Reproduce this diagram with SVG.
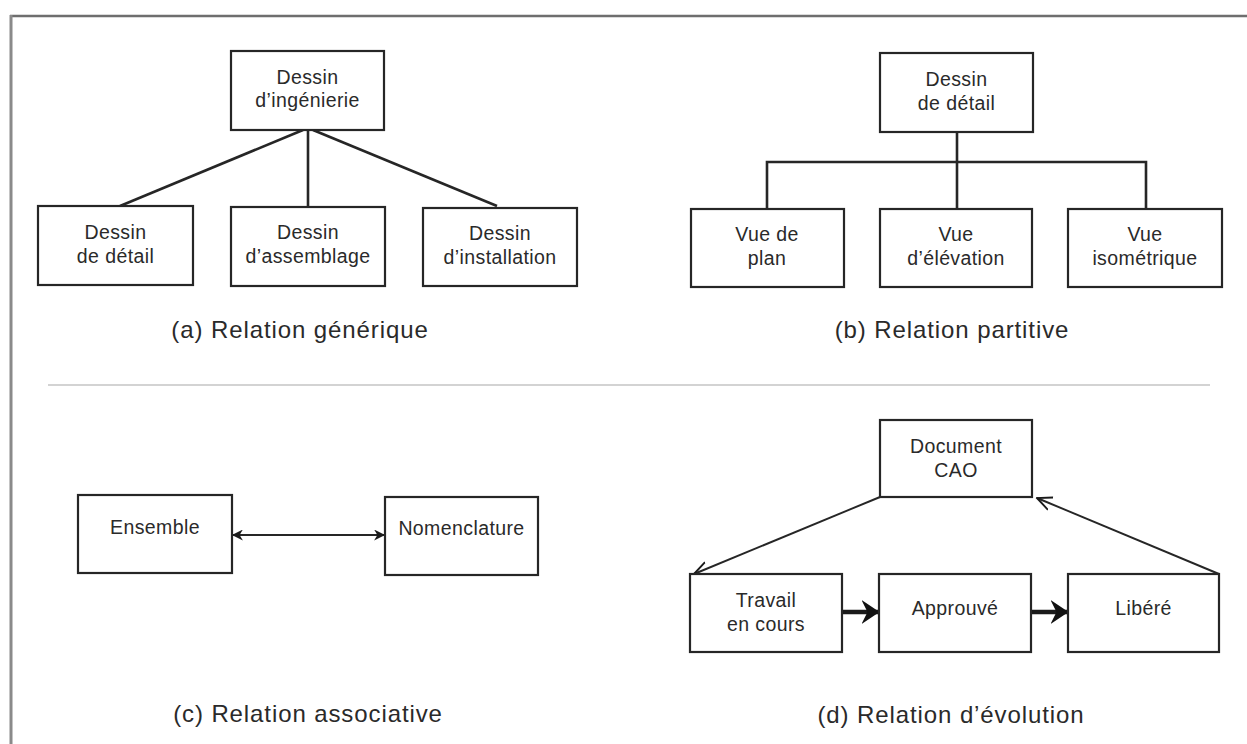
<svg xmlns="http://www.w3.org/2000/svg" width="1247" height="744" viewBox="0 0 1247 744">
  <style>
    .box { fill: #fff; stroke: #262626; stroke-width: 2.2; }
    .t { font-family: "Liberation Sans", Arial, sans-serif; font-size: 19.5px; letter-spacing: 0.4px; fill: #2a2a2a; text-anchor: middle; }
    .cap { font-family: "Liberation Sans", Arial, sans-serif; font-size: 24px; letter-spacing: 0.9px; fill: #2a2a2a; text-anchor: middle; }
    .ln { fill: none; stroke: #262626; stroke-width: 2.6; }
    .thin { fill: none; stroke: #262626; stroke-width: 1.9; }
    .thick { fill: none; stroke: #1a1a1a; stroke-width: 4.5; }
  </style>
  <defs>
    <marker id="dbl" viewBox="0 0 10 10" refX="9" refY="5" markerWidth="12" markerHeight="11" orient="auto-start-reverse" markerUnits="userSpaceOnUse">
      <path d="M0,0 L10,5 L0,10 L3,5 Z" fill="#1a1a1a"/>
    </marker>
    <marker id="openv" viewBox="0 0 12 12" refX="11" refY="6" markerWidth="16" markerHeight="16" orient="auto" markerUnits="userSpaceOnUse">
      <path d="M0,1 L11,6 L0,11" fill="none" stroke="#1a1a1a" stroke-width="1.4"/>
    </marker>
    <marker id="bold" viewBox="0 0 12 12" refX="11" refY="6" markerWidth="18" markerHeight="24" orient="auto" markerUnits="userSpaceOnUse" preserveAspectRatio="none">
      <path d="M0,0 L12,6 L0,12 L4,6 Z" fill="#111"/>
    </marker>
  </defs>

  <rect width="1247" height="744" fill="#fff"/>

  <!-- frame and divider -->
  <line x1="10" y1="16" x2="1247" y2="16" stroke="#6e6e6e" stroke-width="2.5"/>
  <line x1="11" y1="15" x2="11" y2="744" stroke="#8a8a8a" stroke-width="3"/>
  <line x1="48" y1="385" x2="1210" y2="385" stroke="#c4c4c4" stroke-width="1.6"/>

  <g id="connectors">
    <!-- (a) generic -->
    <line class="ln" x1="303" y1="130" x2="120" y2="206"/>
    <line class="ln" x1="308" y1="130" x2="308" y2="206"/>
    <line class="ln" x1="313" y1="130" x2="497" y2="206"/>
    <!-- (b) partitive -->
    <polyline class="ln" points="957,132 957,209"/>
    <polyline class="ln" points="767,209 767,162 1146,162 1146,209"/>
    <!-- (c) associative -->
    <line class="thin" x1="233" y1="535" x2="384" y2="535" marker-start="url(#dbl)" marker-end="url(#dbl)"/>
    <!-- (d) evolution -->
    <line class="thin" x1="880" y1="497" x2="694" y2="574" marker-end="url(#openv)"/>
    <line class="thin" x1="1219" y1="574" x2="1037" y2="498" marker-end="url(#openv)"/>
    <line class="thick" x1="842" y1="612" x2="878" y2="612" marker-end="url(#bold)"/>
    <line class="thick" x1="1031" y1="612" x2="1067" y2="612" marker-end="url(#bold)"/>
  </g>

  <!-- (a) Relation générique -->
  <g id="a-ingenierie">
    <rect class="box" x="231" y="51" width="153" height="79"/>
    <text class="t" x="307.5" y="84">Dessin</text>
    <text class="t" x="307.5" y="107">d’ingénierie</text>
  </g>
  <g id="a-detail">
    <rect class="box" x="38" y="206" width="155" height="79"/>
    <text class="t" x="115.5" y="239">Dessin</text>
    <text class="t" x="115.5" y="263">de détail</text>
  </g>
  <g id="a-assemblage">
    <rect class="box" x="231" y="207" width="154" height="79"/>
    <text class="t" x="308" y="239">Dessin</text>
    <text class="t" x="308" y="263">d’assemblage</text>
  </g>
  <g id="a-installation">
    <rect class="box" x="423" y="208" width="154" height="78"/>
    <text class="t" x="500" y="240">Dessin</text>
    <text class="t" x="500" y="264">d’installation</text>
  </g>
  <text class="cap" x="300" y="338">(a) Relation générique</text>

  <!-- (b) Relation partitive -->
  <g id="b-detail">
    <rect class="box" x="880" y="53" width="153" height="79"/>
    <text class="t" x="956.5" y="86">Dessin</text>
    <text class="t" x="956.5" y="110">de détail</text>
  </g>
  <g id="b-plan">
    <rect class="box" x="691" y="209" width="153" height="78"/>
    <text class="t" x="767" y="241">Vue de</text>
    <text class="t" x="767" y="265">plan</text>
  </g>
  <g id="b-elevation">
    <rect class="box" x="880" y="209" width="152" height="78"/>
    <text class="t" x="956" y="241">Vue</text>
    <text class="t" x="956" y="265">d’élévation</text>
  </g>
  <g id="b-isometrique">
    <rect class="box" x="1068" y="209" width="154" height="78"/>
    <text class="t" x="1145" y="241">Vue</text>
    <text class="t" x="1145" y="265">isométrique</text>
  </g>
  <text class="cap" x="952" y="338">(b) Relation partitive</text>

  <!-- (c) Relation associative -->
  <g id="c-ensemble">
    <rect class="box" x="78" y="495" width="154" height="78"/>
    <text class="t" x="155" y="534">Ensemble</text>
  </g>
  <g id="c-nomenclature">
    <rect class="box" x="385" y="497" width="153" height="78"/>
    <text class="t" x="461.5" y="535">Nomenclature</text>
  </g>
  <text class="cap" x="308" y="722">(c) Relation associative</text>

  <!-- (d) Relation d'évolution -->
  <g id="d-cao">
    <rect class="box" x="880" y="420" width="152" height="77"/>
    <text class="t" x="956" y="453">Document</text>
    <text class="t" x="956" y="477">CAO</text>
  </g>
  <g id="d-travail">
    <rect class="box" x="690" y="574" width="152" height="78"/>
    <text class="t" x="766" y="607">Travail</text>
    <text class="t" x="766" y="631">en cours</text>
  </g>
  <g id="d-approuve">
    <rect class="box" x="879" y="574" width="152" height="78"/>
    <text class="t" x="955" y="615">Approuvé</text>
  </g>
  <g id="d-libere">
    <rect class="box" x="1068" y="574" width="151" height="78"/>
    <text class="t" x="1143.5" y="615">Libéré</text>
  </g>
  <text class="cap" x="951" y="723">(d) Relation d’évolution</text>
</svg>
